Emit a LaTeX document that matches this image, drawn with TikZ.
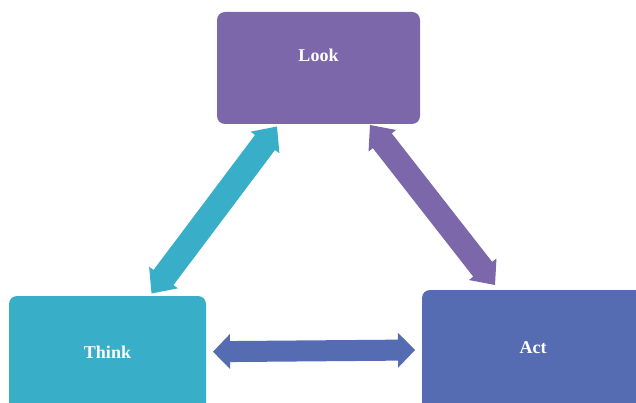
\documentclass[tikz,border=0pt]{standalone}
\usepackage{fontspec}
\setmainfont{Liberation Serif}
\usetikzlibrary{calc}
\definecolor{lookc}{HTML}{7B67AA}
\definecolor{thinkc}{HTML}{38AEC8}
\definecolor{actc}{HTML}{566CB2}
% #1 start, #2 end, #3 colour, #4 half shaft, #5 half head, #6 head length
\newcommand{\dblarrow}[6]{%
 \coordinate (#1-h) at ($(#1)!#6!(#2)$);
 \coordinate (#2-h) at ($(#2)!#6!(#1)$);
 \fill[#3] (#1) -- ($(#1-h)!#5!90:(#2)$) -- ($(#1-h)!#4!90:(#2)$)
   -- ($(#2-h)!#4!-90:(#1)$) -- ($(#2-h)!#5!-90:(#1)$) -- (#2)
   -- ($(#2-h)!#5!90:(#1)$) -- ($(#2-h)!#4!90:(#1)$)
   -- ($(#1-h)!#4!-90:(#2)$) -- ($(#1-h)!#5!-90:(#2)$) -- cycle;}
\begin{document}
\begin{tikzpicture}[x=1pt,y=-1pt,
  box/.style={rectangle, rounded corners=8pt, inner sep=0pt, draw=none},
  lbl/.style={text=white, font=\bfseries\fontsize{18}{20}\selectfont, inner sep=0pt}]
\useasboundingbox (0,0) rectangle (636,403);
\clip (0,0) rectangle (636,403);
\node[box, fill=lookc, minimum width=203pt, minimum height=112pt] (look) at (318.5,68) {};
\node[box, fill=thinkc, minimum width=197pt, minimum height=124pt] (think) at (107.5,358) {};
\node[box, fill=actc, minimum width=226pt, minimum height=130pt] (act) at (535,355) {};
\node[lbl] (looklbl) at (318.5,55) {Look};
\node[lbl] (thinklbl) at (107.5,352) {Think};
\node[lbl] (actlbl) at (533,348) {Act};
\coordinate (tA) at (277,126.5);
\coordinate (tB) at (151.5,293.5);
\coordinate (pA) at (370,125);
\coordinate (pB) at (495,285);
\coordinate (bA) at (213,351.7);
\coordinate (bB) at (415,350);
\dblarrow{tA}{tB}{thinkc}{12.5pt}{18pt}{20pt}
\dblarrow{pA}{pB}{lookc}{12pt}{17.5pt}{20pt}
\dblarrow{bA}{bB}{actc}{10.5pt}{17.5pt}{17pt}
\end{tikzpicture}
\end{document}
